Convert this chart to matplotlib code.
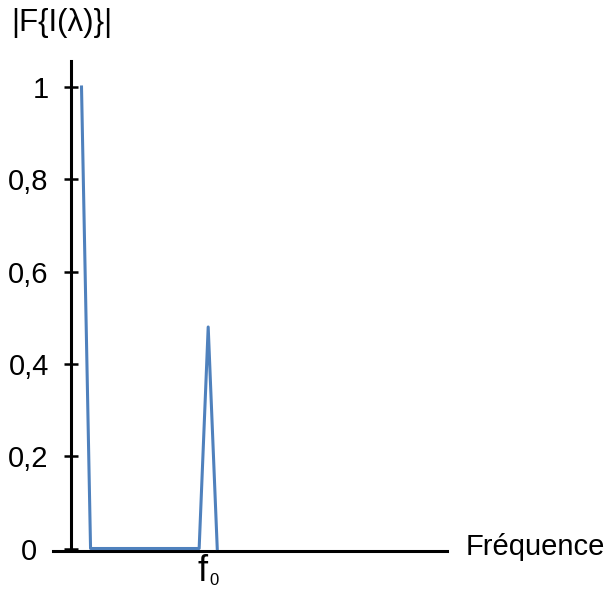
import matplotlib.pyplot as plt

plt.rcParams['font.family'] = ['Liberation Sans', 'DejaVu Sans']

# donnees
freq_index = [0, 1, 2, 3, 4, 5, 6, 7, 8, 9, 10, 11, 12, 13, 14, 15]
amplitude = [1, 0, 0, 0, 0, 0, 0, 0, 0, 0, 0, 0, 0, 0, 0.48, 0]
yticks = [0, 0.2, 0.4, 0.6, 0.8, 1]
ytick_labels = ['0', '0,2', '0,4', '0,6', '0,8', '1']

W, H = 608, 589
fig = plt.figure(figsize=(W / 100, H / 100), dpi=100)
ax = fig.add_axes([53 / W, (H - 548.5) / H, 394 / W, (548.5 - 61) / H])

ax.plot(freq_index, amplitude, color='#4f81bd', lw=2.2, clip_on=False, zorder=3)

ax.set_xlim(-3.15, 40.39)
ax.set_ylim(0, (548.5 - 61) / 461.5)

for s in ['top', 'right']:
    ax.spines[s].set_visible(False)
ax.spines['left'].set_position(('data', -1.16))
ax.spines['bottom'].set_position(('outward', 1.5))
for s in ['left', 'bottom']:
    ax.spines[s].set_linewidth(2.2)
    ax.spines[s].set_color('black')

ax.set_xticks([])
ax.set_yticks(yticks)
ax.set_yticklabels([''] + ytick_labels[1:])
ax.tick_params(axis='y', direction='inout', length=10, width=1.8, pad=11, labelsize=21)

# le "0" est decale vers la gauche dans l'original
fig.text(37 / W, 1 - 548.5 / H, ytick_labels[0], ha='right', va='center_baseline', fontsize=21)

fig.text(466 / W, 1 - 555 / H, 'Fréquence', fontsize=21, va='baseline')
fig.text(11 / W, 1 - 31 / H, '|F{I(λ)}|', fontsize=22.5, va='baseline')
fig.text(197 / W, 1 - 581 / H, 'f', fontsize=26, va='baseline')
fig.text(209 / W, 1 - 585 / H, '0', fontsize=12, va='baseline')

fig.savefig('out.png', dpi=100)
